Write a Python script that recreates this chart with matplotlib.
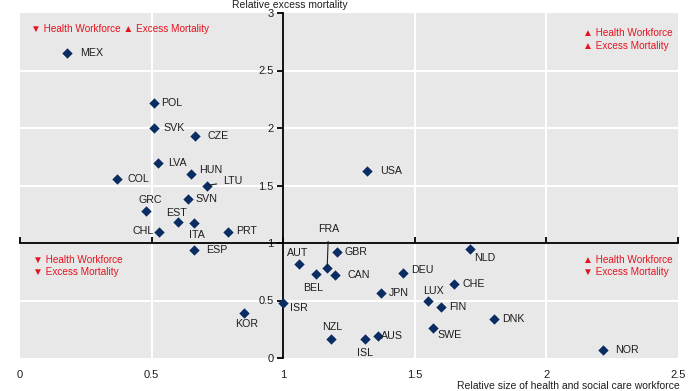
import matplotlib
matplotlib.use('Agg')
import matplotlib.pyplot as plt
import numpy as np

plt.rcParams['font.family'] = ['Liberation Sans', 'DejaVu Sans']

# Data
countries = ['MEX', 'POL', 'SVK', 'CZE', 'LVA', 'HUN', 'LTU', 'COL', 'SVN', 'GRC',
             'EST', 'ITA', 'CHL', 'PRT', 'ESP', 'KOR', 'ISR', 'AUT', 'FRA', 'BEL',
             'GBR', 'CAN', 'NZL', 'USA', 'NLD', 'DEU', 'CHE', 'JPN', 'LUX', 'FIN',
             'DNK', 'SWE', 'AUS', 'ISL', 'NOR']
workforce = [0.18, 0.51, 0.51, 0.665, 0.525, 0.65, 0.71, 0.37, 0.64, 0.48,
             0.60, 0.66, 0.53, 0.79, 0.66, 0.85, 1.00, 1.06, 1.167, 1.125,
             1.205, 1.195, 1.18, 1.32, 1.71, 1.455, 1.65, 1.37, 1.55, 1.60,
             1.80, 1.57, 1.36, 1.31, 2.215]
mortality = [2.65, 2.22, 2.00, 1.93, 1.70, 1.60, 1.50, 1.56, 1.38, 1.28,
             1.18, 1.17, 1.10, 1.10, 0.94, 0.39, 0.48, 0.82, 0.78, 0.73,
             0.92, 0.72, 0.165, 1.63, 0.95, 0.74, 0.64, 0.565, 0.50, 0.44,
             0.34, 0.26, 0.19, 0.165, 0.07]

x_ticks = [0, 0.5, 1, 1.5, 2, 2.5]
x_tick_labels = ['0', '0.5', '1', '1.5', '2', '2.5']
y_ticks = [0, 0.5, 1, 1.5, 2, 2.5, 3]
y_tick_labels = ['0', '0.5', '1', '1.5', '2', '2.5', '3']

# label placement: offset in points, horizontal alignment
label_pos = {
    'MEX': (9, 0, 'left'), 'POL': (5, 0, 'left'), 'SVK': (7, 0, 'left'),
    'CZE': (9, 0, 'left'), 'LVA': (7, 0, 'left'), 'HUN': (6, 3, 'left'),
    'LTU': (12, 3, 'left'), 'COL': (7, 0, 'left'), 'SVN': (5, 0, 'left'),
    'GRC': (3, 8, 'center'), 'EST': (-1, 7, 'center'), 'ITA': (2, -8, 'center'),
    'CHL': (-4, 0, 'right'), 'PRT': (6, 0, 'left'), 'ESP': (9, 0, 'left'),
    'KOR': (2, -8, 'center'), 'ISR': (5, -4, 'left'), 'AUT': (-1, 8, 'center'),
    'FRA': (1, 28, 'center'), 'BEL': (-2, -10, 'center'), 'GBR': (5, 0, 'left'),
    'CAN': (9, 0, 'left'), 'NZL': (1, 9, 'center'), 'USA': (9, 0, 'left'),
    'NLD': (3, -7, 'left'), 'DEU': (6, 2, 'left'), 'CHE': (6, 0, 'left'),
    'JPN': (6, 0, 'left'), 'LUX': (4, 7, 'center'), 'FIN': (6, 0, 'left'),
    'DNK': (6, 0, 'left'), 'SWE': (3, -5, 'left'), 'AUS': (2, 0, 'left'),
    'ISL': (0, -10, 'center'), 'NOR': (9, 0, 'left'),
}
leader = ['LTU', 'FRA']

red = '#e5131f'
navy = '#0b2c62'
txt = '#1e1e1e'

fig = plt.figure(figsize=(6.96, 3.91), dpi=100)
ax = fig.add_axes([20 / 696, 1 - 358 / 391, 658 / 696, 345 / 391])
ax.set_facecolor('#e8e8e8')
ax.set_xlim(0, 2.5)
ax.set_ylim(0, 3)

for s in ['top', 'right']:
    ax.spines[s].set_visible(False)
ax.spines['left'].set_position(('data', 1))
ax.spines['bottom'].set_position(('data', 1))
ax.spines['left'].set_linewidth(1.3)
ax.spines['bottom'].set_linewidth(1.3)

ax.set_xticks(x_ticks)
ax.set_xticklabels([])
ax.tick_params(axis='x', direction='in', length=4, width=1.3, labelbottom=False)
ax.set_yticks(y_ticks)
ax.set_yticklabels(y_tick_labels)
ax.tick_params(axis='y', direction='out', length=4, width=1.3, labelsize=8,
               labelcolor=txt, pad=3)

# x tick labels at the bottom of the plot area
sec = ax.secondary_xaxis('bottom')
sec.set_xticks(x_ticks)
sec.set_xticklabels(x_tick_labels)
sec.tick_params(length=0, labelsize=8, labelcolor=txt, pad=9)
sec.spines['bottom'].set_visible(False)

# white grid
for g in [0.5, 1.5, 2]:
    ax.axvline(g, color='white', lw=1.5, zorder=0.5)
for g in [0.5, 1.5, 2, 2.5]:
    ax.axhline(g, color='white', lw=1.5, zorder=0.5)

ax.scatter(workforce, mortality, marker='D', s=28, color=navy, zorder=3, linewidths=0)

for c, xv, yv in zip(countries, workforce, mortality):
    dx, dy, ha = label_pos[c]
    props = None
    if c in leader:
        props = dict(arrowstyle='-', color=txt, lw=0.8, shrinkA=3, shrinkB=1)
    ax.annotate(c, (xv, yv), xytext=(dx, dy), textcoords='offset points',
                ha=ha, va='center', fontsize=7.7, color=txt, arrowprops=props, zorder=4)

# quadrant notes
ax.text(0.04, 2.86, '▼ Health Workforce ▲ Excess Mortality', color=red,
        fontsize=7.2, ha='left', va='center')
ax.text(2.14, 2.77, '▲ Health Workforce\n▲ Excess Mortality', color=red,
        fontsize=7.2, ha='left', va='center', linespacing=1.3)
ax.text(0.05, 0.80, '▼ Health Workforce\n▼ Excess Mortality', color=red,
        fontsize=7.2, ha='left', va='center', linespacing=1.3)
ax.text(2.14, 0.80, '▲ Health Workforce\n▼ Excess Mortality', color=red,
        fontsize=7.2, ha='left', va='center', linespacing=1.3)

fig.text(290 / 696, 1.0, 'Relative excess mortality', ha='center',
         va='top', fontsize=7.5, color=txt)
fig.text(680 / 696, 0.0, 'Relative size of health and social care workforce',
         ha='right', va='bottom', fontsize=7.5, color=txt)

fig.savefig('out.png', dpi=100)
